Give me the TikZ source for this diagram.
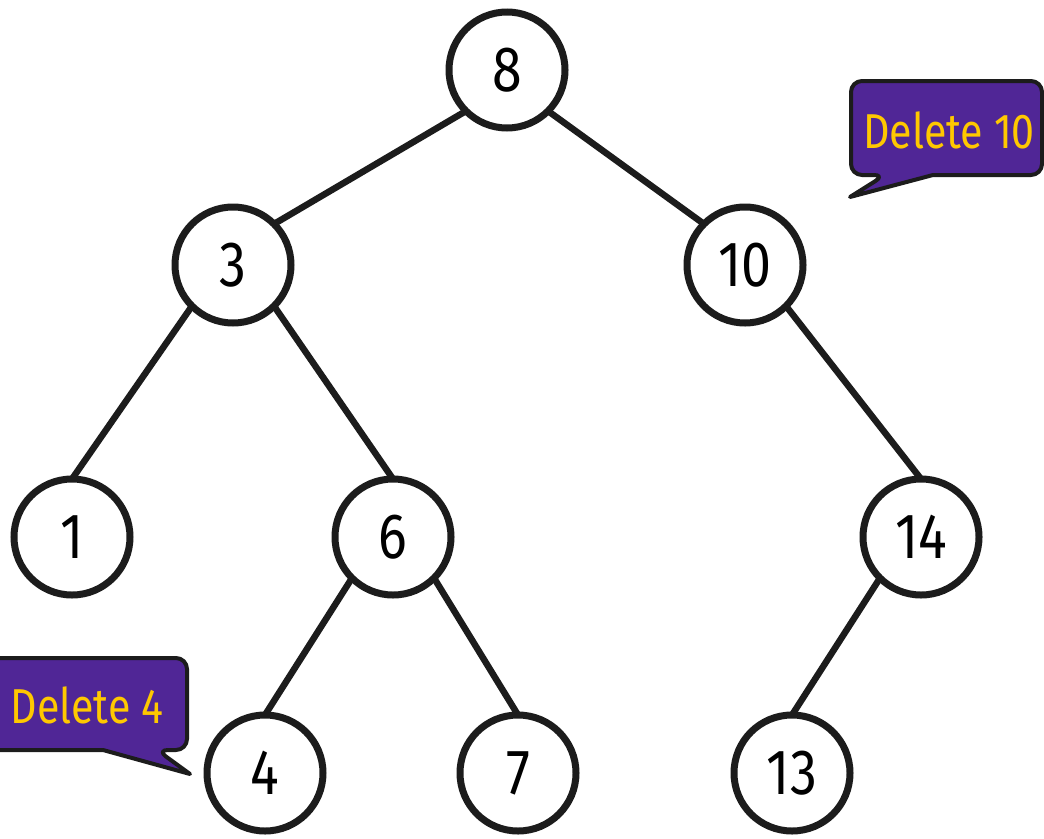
\documentclass[tikz,border=0pt]{standalone}
\usepackage{fontspec}
\setmainfont{Fira Sans}[FakeStretch=0.84]
\usetikzlibrary{backgrounds}
\definecolor{ink}{RGB}{28,28,28}
\definecolor{calloutfill}{RGB}{80,38,150}
\definecolor{callouttext}{RGB}{255,200,0}
\begin{document}
\begin{tikzpicture}[x=1pt,y=-1pt,
  treenode/.style={circle,draw=ink,line width=7pt,fill=white,minimum size=116pt,
    inner sep=0pt,outer sep=0pt,font=\fontsize{64}{64}\selectfont},
  edge/.style={draw=ink,line width=6.5pt},
  callout/.style={fill=calloutfill,draw=ink,line width=4pt,rounded corners=11pt,line join=round},
  calltext/.style={text=callouttext,font=\fontsize{49}{49}\selectfont,inner sep=0pt}]
\useasboundingbox (0,0) rectangle (1044,838);
% tree nodes
\node[treenode] (n8)  at (507,70)  {8};
\node[treenode] (n3)  at (233,265) {3};
\node[treenode] (n10) at (745,265) {10};
\node[treenode] (n1)  at (72,537)  {1};
\node[treenode] (n6)  at (393,537) {6};
\node[treenode] (n14) at (921,537) {14};
\node[treenode] (n4)  at (265,773) {4};
\node[treenode] (n7)  at (518,773) {7};
\node[treenode] (n13) at (792,773) {13};
% connectors, drawn behind the circles
\begin{pgfonlayer}{background}
\path[edge] (n8.south west) -- (n3.north east);
\path[edge] (n8.south east) -- (n10.north west);
\path[edge] (n3.south west) -- (n1.north);
\path[edge] (n3.south east) -- (n6.north);
\path[edge] (n10.south east) -- (n14.north);
\path[edge] (n6.south west) -- (n4.north);
\path[edge] (n6.south east) -- (n7.north);
\path[edge] (n14.south west) -- (n13.north);
\end{pgfonlayer}
% speech bubbles
\coordinate (tipA) at (850,197);
\path[callout] (933,175) -- (1042,175) -- (1042,81) -- (851,81) -- (851,175) -- (885,175) [sharp corners]-- (tipA) -- cycle;
\node[calltext] (ca) at (949,130) {Delete 10};
\coordinate (tipB) at (190,774);
\path[callout] (103,750) -- (-20,750) -- (-20,658) -- (187,658) -- (187,750) -- (157,750) [sharp corners]-- (tipB) -- cycle;
\node[calltext] (cb) at (87,705) {Delete 4};
\end{tikzpicture}
\end{document}
